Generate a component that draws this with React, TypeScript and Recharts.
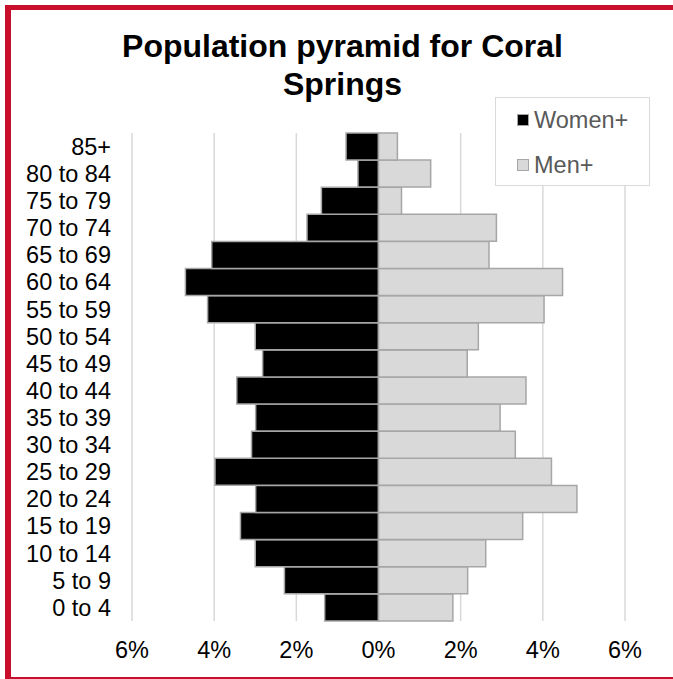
import { BarChart, Bar, XAxis, YAxis, CartesianGrid, Legend } from 'recharts'

const AGE_GROUPS = [
  '0 to 4', '5 to 9', '10 to 14', '15 to 19', '20 to 24', '25 to 29',
  '30 to 34', '35 to 39', '40 to 44', '45 to 49', '50 to 54', '55 to 59',
  '60 to 64', '65 to 69', '70 to 74', '75 to 79', '80 to 84', '85+',
]

// percent of population
const WOMEN = [
  1.31, 2.29, 3.0, 3.36, 2.99, 3.98, 3.09, 2.99, 3.45,
  2.82, 3.0, 4.16, 4.7, 4.06, 1.74, 1.39, 0.5, 0.79,
]
const MEN = [
  1.81, 2.17, 2.61, 3.51, 4.83, 4.21, 3.33, 2.96, 3.59,
  2.16, 2.43, 4.03, 4.48, 2.69, 2.87, 0.56, 1.27, 0.46,
]

const X_TICKS = [-6, -4, -2, 0, 2, 4, 6]

const FONT = '"Liberation Sans", Arial, sans-serif'
const RED = '#c8102e'
const LABEL_SIZE = 23.5

const data = AGE_GROUPS.map((age, i) => ({
  age,
  women: -WOMEN[i],
  men: MEN[i],
}))

function LegendBox({ payload }: any) {
  // women first, like the original
  const items = [...(payload || [])].sort((a: any) => (a.dataKey === 'women' ? -1 : 1))
  return (
    <div
      style={{
        border: '1px solid #d9d9d9',
        background: '#fff',
        width: 155,
        height: 89,
        boxSizing: 'border-box',
        paddingLeft: 21,
        paddingTop: 10,
      }}
    >
      {items.map((p: any) => (
        <div key={p.value} style={{ display: 'flex', alignItems: 'center', height: 24, marginBottom: 21 }}>
          <span
            style={{
              width: 12,
              height: 12,
              boxSizing: 'border-box',
              background: p.color,
              border: '1.5px solid #a6a6a6',
              marginRight: 5,
            }}
          />
          <span style={{ fontSize: LABEL_SIZE, color: '#595959', fontFamily: FONT }}>{p.value}</span>
        </div>
      ))}
    </div>
  )
}

export default function App() {
  return (
    <div
      style={{
        position: 'absolute',
        left: 0,
        top: 0,
        width: 673,
        height: 679,
        overflow: 'hidden',
        background: '#fff',
        fontFamily: FONT,
      }}
    >
      <div
        style={{
          position: 'absolute',
          left: 5,
          top: 5,
          width: 720,
          height: 677,
          boxSizing: 'border-box',
          borderStyle: 'solid',
          borderColor: RED,
          borderWidth: '5px 5px 5px 6px',
        }}
      />
      <div
        style={{
          position: 'absolute',
          left: 0,
          top: 27,
          width: 685,
          textAlign: 'center',
          fontWeight: 'bold',
          fontSize: 32,
          lineHeight: '38px',
          color: '#000',
        }}
      >
        Population pyramid for Coral
        <br />
        Springs
      </div>
      <BarChart
        width={673}
        height={679}
        data={data}
        layout="vertical"
        stackOffset="sign"
        barCategoryGap={0}
        margin={{ top: 133, right: 48, bottom: 28, left: 0 }}
        style={{ position: 'absolute', left: 0, top: 0 }}
      >
        <CartesianGrid horizontal={false} stroke="#d9d9d9" strokeWidth={1.5} />
        <XAxis
          type="number"
          domain={[-6, 6]}
          ticks={X_TICKS}
          tickFormatter={(v: number) => `${Math.abs(v)}%`}
          axisLine={false}
          tickLine={false}
          tickSize={0}
          tickMargin={20}
          tick={{ fill: '#000', fontSize: LABEL_SIZE, fontFamily: FONT }}
        />
        <YAxis
          type="category"
          dataKey="age"
          reversed
          width={132}
          axisLine={false}
          tickLine={false}
          tickSize={0}
          tickMargin={21}
          interval={0}
          tick={{ fill: '#000', fontSize: LABEL_SIZE, fontFamily: FONT }}
        />
        <Legend
          layout="horizontal"
          verticalAlign="middle"
          align="center"
          content={<LegendBox />}
          wrapperStyle={{ left: 495, top: 97, width: 155, height: 89 }}
        />
        <Bar
          dataKey="women"
          name="Women+"
          stackId="a"
          fill="#000000"
          stroke="#a6a6a6"
          strokeWidth={1.5}
          isAnimationActive={false}
        />
        <Bar
          dataKey="men"
          name="Men+"
          stackId="a"
          fill="#d9d9d9"
          stroke="#a6a6a6"
          strokeWidth={1.5}
          isAnimationActive={false}
        />
      </BarChart>
    </div>
  )
}
